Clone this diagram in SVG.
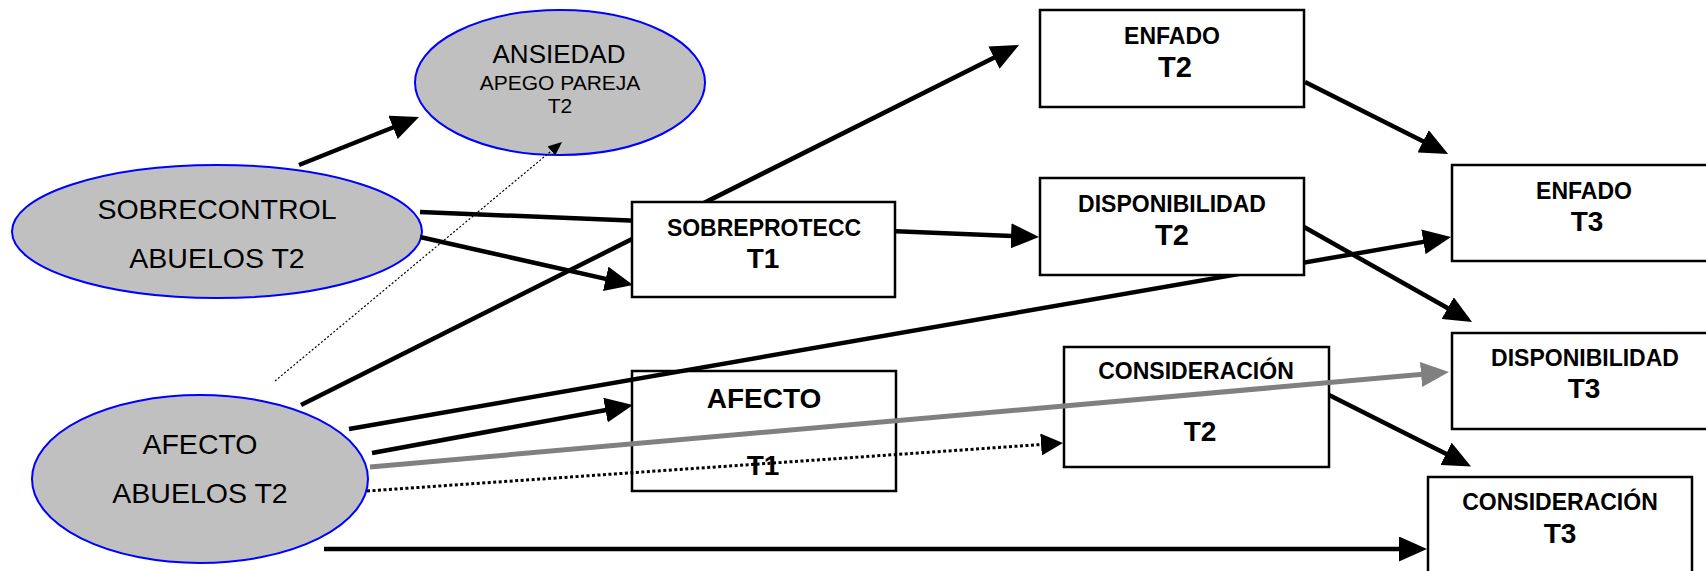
<svg xmlns="http://www.w3.org/2000/svg" width="1706" height="571" viewBox="0 0 1706 571">
  <style>
    .bg { fill: #ffffff; }
    .oval { fill: #c0c0c0; stroke: #0000ff; stroke-width: 2; }
    .box { fill: #ffffff; stroke: #000000; stroke-width: 2.5; }
    .ot { font-family: "Liberation Sans", Arial, sans-serif; fill: #000000; text-anchor: middle; }
    .bt { font-family: "Liberation Sans", Arial, sans-serif; font-weight: bold; fill: #000000; text-anchor: middle; }
    .edge { fill: none; stroke: #000000; stroke-width: 4.5; }
    .gray { fill: none; stroke: #808080; stroke-width: 5; }
    .dots { fill: none; stroke: #000000; stroke-width: 3; stroke-dasharray: 3 2.5; }
    .fine { fill: none; stroke: #000000; stroke-width: 1.2; stroke-dasharray: 2 2; }
  </style>
  <defs>
    <marker id="head" markerUnits="userSpaceOnUse" markerWidth="28" markerHeight="25" refX="16" refY="12.5" orient="auto">
      <path d="M0,0 L28,12.5 L0,25 z" fill="#000000"/>
    </marker>
    <marker id="head-gray" markerUnits="userSpaceOnUse" markerWidth="28" markerHeight="25" refX="16" refY="12.5" orient="auto">
      <path d="M0,0 L28,12.5 L0,25 z" fill="#808080"/>
    </marker>
    <marker id="head-mid" markerUnits="userSpaceOnUse" markerWidth="22" markerHeight="22" refX="12" refY="11" orient="auto">
      <path d="M0,0 L22,11 L0,22 z" fill="#000000"/>
    </marker>
    <marker id="head-small" markerUnits="userSpaceOnUse" markerWidth="14" markerHeight="12" refX="6" refY="6" orient="auto">
      <path d="M0,0 L14,6 L0,12 z" fill="#000000"/>
    </marker>
  </defs>

  <rect class="bg" x="0" y="0" width="1706" height="571"/>

  <!-- latent factors -->
  <g id="ansiedad-t2">
    <ellipse class="oval" cx="560" cy="82.5" rx="145" ry="72.5"/>
    <text class="ot" x="559" y="63" font-size="26">ANSIEDAD</text>
    <text class="ot" x="560" y="90" font-size="21">APEGO PAREJA</text>
    <text class="ot" x="560" y="113" font-size="21">T2</text>
  </g>
  <g id="sobrecontrol-abuelos">
    <ellipse class="oval" cx="217" cy="231.5" rx="205" ry="66.5"/>
    <text class="ot" x="217" y="219" font-size="28.5">SOBRECONTROL</text>
    <text class="ot" x="217" y="268" font-size="28.5">ABUELOS T2</text>
  </g>
  <g id="afecto-abuelos">
    <ellipse class="oval" cx="200" cy="479" rx="168" ry="84"/>
    <text class="ot" x="200" y="454" font-size="28.5">AFECTO</text>
    <text class="ot" x="200" y="503" font-size="28.5">ABUELOS T2</text>
  </g>

  <!-- boxes that sit beneath the paths -->
  <g id="afecto-t1">
    <rect class="box" x="632" y="371" width="264" height="120"/>
    <text class="bt" x="764" y="408" font-size="28">AFECTO</text>
    <text class="bt" x="763" y="475" font-size="28">T1</text>
  </g>
  <g id="consideracion-t2">
    <rect class="box" x="1064" y="347" width="265" height="120"/>
    <text class="bt" x="1196" y="379" font-size="23">CONSIDERACIÓN</text>
    <text class="bt" x="1200" y="441" font-size="28">T2</text>
  </g>
  <g id="enfado-t2">
    <rect class="box" x="1040" y="10" width="264" height="97"/>
    <text class="bt" x="1172" y="44" font-size="23">ENFADO</text>
    <text class="bt" x="1175" y="77" font-size="29">T2</text>
  </g>
  <g id="enfado-t3">
    <rect class="box" x="1452" y="165" width="256" height="96"/>
    <text class="bt" x="1584" y="199" font-size="23">ENFADO</text>
    <text class="bt" x="1587" y="231" font-size="28">T3</text>
  </g>
  <g id="disponibilidad-t3">
    <rect class="box" x="1452" y="333" width="256" height="96"/>
    <text class="bt" x="1585" y="366" font-size="23">DISPONIBILIDAD</text>
    <text class="bt" x="1584" y="398" font-size="28">T3</text>
  </g>
  <g id="consideracion-t3">
    <rect class="box" x="1428" y="477" width="264" height="110"/>
    <text class="bt" x="1560" y="510" font-size="23">CONSIDERACIÓN</text>
    <text class="bt" x="1560" y="543" font-size="28">T3</text>
  </g>

  <!-- paths -->
  <g id="connectors">
    <line class="edge" x1="299" y1="165" x2="407.9" y2="121.5" marker-end="url(#head)"/>
    <line class="fine" x1="275" y1="381" x2="555.9" y2="147.1" marker-end="url(#head-small)"/>
    <line class="edge" x1="420" y1="212" x2="1027" y2="236.5" marker-end="url(#head)"/>
    <line class="edge" x1="420" y1="237" x2="621.3" y2="282.4" marker-end="url(#head)"/>
    <line class="edge" x1="301" y1="405" x2="1008.3" y2="50.4" marker-end="url(#head)"/>
    <line class="edge" x1="349" y1="429" x2="1439.2" y2="239.1" marker-end="url(#head)"/>
    <line class="edge" x1="372" y1="453" x2="621.2" y2="407.2" marker-end="url(#head)"/>
    <line class="gray" x1="370" y1="467" x2="1437" y2="373.1" marker-end="url(#head-gray)"/>
    <line class="dots" x1="367" y1="491" x2="1053" y2="443.7" marker-end="url(#head-mid)"/>
    <line class="edge" x1="324" y1="549" x2="1415" y2="549" marker-end="url(#head)"/>
    <line class="edge" x1="1305" y1="82" x2="1437.4" y2="148.5" marker-end="url(#head)"/>
    <line class="edge" x1="1304" y1="227" x2="1461.6" y2="316" marker-end="url(#head)"/>
    <line class="edge" x1="1329" y1="395" x2="1460.3" y2="461" marker-end="url(#head)"/>
  </g>

  <!-- boxes drawn over the paths -->
  <g id="sobreprotecc-t1">
    <rect class="box" x="632" y="202" width="263" height="95"/>
    <text class="bt" x="764" y="236" font-size="23">SOBREPROTECC</text>
    <text class="bt" x="763" y="268" font-size="28">T1</text>
  </g>
  <g id="disponibilidad-t2">
    <rect class="box" x="1040" y="178" width="264" height="97"/>
    <text class="bt" x="1172" y="212" font-size="23">DISPONIBILIDAD</text>
    <text class="bt" x="1172" y="245" font-size="29">T2</text>
  </g>
</svg>
